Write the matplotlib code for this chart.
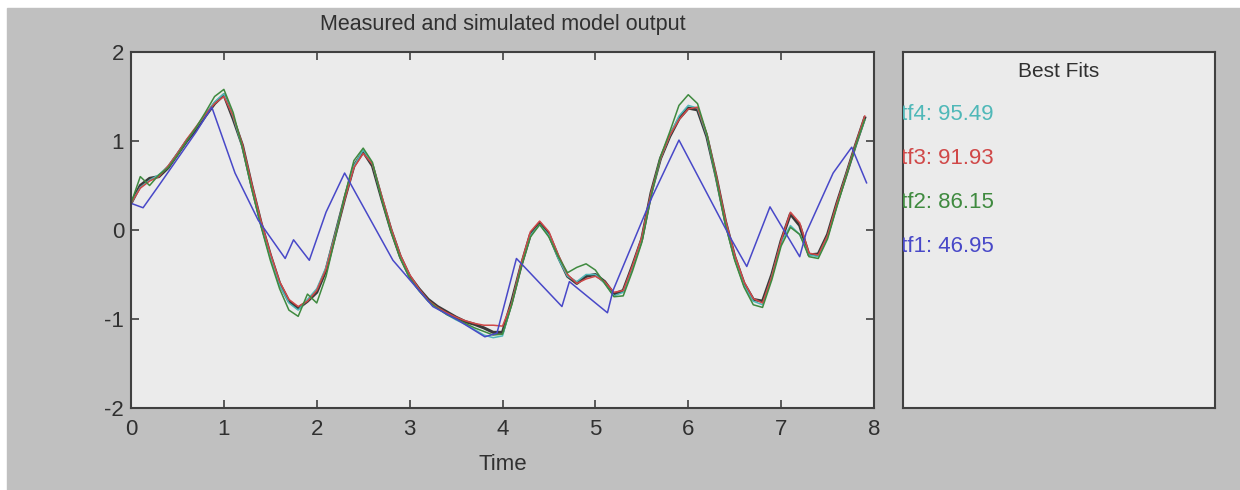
import numpy as np
import matplotlib
matplotlib.use("Agg")
import matplotlib.pyplot as plt
from matplotlib.patches import Rectangle

plt.rcParams['font.family'] = ['Liberation Sans', 'DejaVu Sans']
plt.rcParams['axes.unicode_minus'] = False

# sample time 0.1 s, 80 samples
t = np.arange(80) * 0.1

y_meas = [0.30, 0.50, 0.58, 0.60, 0.70, 0.85, 1.00, 1.13, 1.28, 1.42,
          1.52, 1.25, 0.95, 0.50, 0.08, -0.28, -0.60, -0.80, -0.88, -0.80,
          -0.70, -0.45, -0.05, 0.35, 0.72, 0.88, 0.72, 0.35, 0.00, -0.30,
          -0.52, -0.66, -0.78, -0.86, -0.92, -0.98, -1.03, -1.06, -1.10, -1.15,
          -1.15, -0.80, -0.40, -0.05, 0.08, -0.05, -0.30, -0.52, -0.60, -0.52,
          -0.50, -0.58, -0.72, -0.68, -0.40, -0.10, 0.42, 0.80, 1.05, 1.25,
          1.37, 1.35, 1.05, 0.60, 0.10, -0.30, -0.60, -0.78, -0.80, -0.50,
          -0.12, 0.18, 0.05, -0.28, -0.27, -0.05, 0.30, 0.62, 0.95, 1.26]

y_tf4 = [0.30, 0.48, 0.56, 0.62, 0.72, 0.86, 1.01, 1.15, 1.30, 1.44,
         1.53, 1.27, 0.93, 0.48, 0.06, -0.30, -0.62, -0.82, -0.90, -0.78,
         -0.66, -0.42, -0.04, 0.36, 0.72, 0.90, 0.74, 0.36, 0.00, -0.30,
         -0.54, -0.68, -0.80, -0.88, -0.95, -1.01, -1.06, -1.12, -1.18, -1.21,
         -1.19, -0.82, -0.40, -0.06, 0.06, -0.06, -0.32, -0.52, -0.58, -0.50,
         -0.50, -0.60, -0.74, -0.70, -0.42, -0.10, 0.40, 0.80, 1.06, 1.28,
         1.40, 1.37, 1.06, 0.58, 0.08, -0.32, -0.62, -0.80, -0.84, -0.52,
         -0.14, 0.05, -0.05, -0.28, -0.30, -0.08, 0.28, 0.62, 0.94, 1.24]

y_tf3 = [0.30, 0.47, 0.55, 0.60, 0.72, 0.86, 1.02, 1.16, 1.30, 1.42,
         1.50, 1.28, 0.96, 0.52, 0.10, -0.26, -0.58, -0.78, -0.86, -0.80,
         -0.68, -0.44, -0.06, 0.34, 0.70, 0.86, 0.74, 0.38, 0.02, -0.28,
         -0.50, -0.66, -0.79, -0.87, -0.93, -0.98, -1.02, -1.05, -1.07, -1.07,
         -1.08, -0.82, -0.38, -0.02, 0.10, -0.02, -0.28, -0.50, -0.60, -0.55,
         -0.52, -0.58, -0.70, -0.68, -0.40, -0.08, 0.42, 0.80, 1.06, 1.24,
         1.36, 1.38, 1.08, 0.62, 0.12, -0.28, -0.58, -0.77, -0.82, -0.52,
         -0.12, 0.20, 0.08, -0.26, -0.28, -0.06, 0.30, 0.62, 0.96, 1.28]

y_tf2 = [0.30, 0.60, 0.50, 0.62, 0.70, 0.84, 1.00, 1.15, 1.32, 1.50,
         1.58, 1.32, 0.92, 0.46, 0.04, -0.34, -0.66, -0.90, -0.97, -0.72,
         -0.82, -0.52, -0.08, 0.38, 0.78, 0.92, 0.76, 0.34, -0.02, -0.32,
         -0.54, -0.68, -0.80, -0.88, -0.95, -1.00, -1.05, -1.10, -1.14, -1.18,
         -1.17, -0.84, -0.42, -0.08, 0.06, -0.08, -0.30, -0.48, -0.42, -0.38,
         -0.45, -0.60, -0.75, -0.74, -0.46, -0.14, 0.38, 0.82, 1.10, 1.40,
         1.52, 1.42, 1.08, 0.58, 0.06, -0.34, -0.64, -0.84, -0.87, -0.56,
         -0.18, 0.03, -0.05, -0.30, -0.32, -0.10, 0.26, 0.60, 0.94, 1.24]

# tf1 is a poor fit, read at its corner points
t_tf1 = [0.00, 0.13, 0.30, 0.50, 0.70, 0.87, 1.12, 1.37, 1.66, 1.75,
         1.92, 2.10, 2.30, 2.82, 3.25, 3.50, 3.81, 3.94, 4.15, 4.64,
         4.72, 5.13, 5.19, 5.61, 5.90, 6.45, 6.63, 6.88, 7.20, 7.27,
         7.56, 7.76, 7.92]
y_tf1 = [0.30, 0.25, 0.50, 0.80, 1.10, 1.38, 0.64, 0.11, -0.32, -0.11,
         -0.34, 0.20, 0.64, -0.34, -0.86, -1.00, -1.20, -1.16, -0.32, -0.86,
         -0.58, -0.93, -0.68, 0.37, 1.01, -0.08, -0.41, 0.26, -0.30, -0.03,
         0.64, 0.93, 0.53]

fit_names = ['tf4', 'tf3', 'tf2', 'tf1']
fit_values = [95.49, 91.93, 86.15, 46.95]
fit_colors = ['#4fb8b8', '#d04848', '#3f8a3f', '#4848c8']

fig = plt.figure(figsize=(12.4, 4.9), dpi=100, facecolor='white')
fig.patches.append(Rectangle((7 / 1240, 0), 1233 / 1240, 482 / 490,
                             transform=fig.transFigure, color='#c0c0c0', zorder=-10))

ax = fig.add_axes([131 / 1240, 82 / 490, 743 / 1240, 356 / 490])
ax.set_facecolor('#ebebeb')
ax.plot(t, y_meas, color='#3a3a3a', lw=2.2)
ax.plot(t, y_tf4, color=fit_colors[0], lw=1.1)
ax.plot(t, y_tf3, color=fit_colors[1], lw=1.1)
ax.plot(t, y_tf2, color=fit_colors[2], lw=1.1)
ax.plot(t_tf1, y_tf1, color=fit_colors[3], lw=1.1)

ax.set_xlim(0, 8)
ax.set_ylim(-2, 2)
ax.set_xticks(range(0, 9))
ax.set_yticks([-2, -1, 0, 1, 2])
ax.tick_params(direction='in', top=True, right=True, length=6, width=1.2,
               colors='#404040', labelsize=16, labelcolor='#303030')
ax.tick_params(axis='x', pad=8)
ax.tick_params(axis='y', pad=5)
for s in ax.spines.values():
    s.set_color('#404040')
    s.set_linewidth(1.5)
ax.set_title('Measured and simulated model output', fontsize=15.5, color='#303030', pad=16)
ax.set_xlabel('Time', fontsize=16, color='#303030', labelpad=10)

# legend panel with the fit percentages
bx = fig.add_axes([903 / 1240, 82 / 490, 312 / 1240, 356 / 490])
bx.set_facecolor('#ebebeb')
bx.set_xticks([])
bx.set_yticks([])
for s in bx.spines.values():
    s.set_color('#404040')
    s.set_linewidth(1.5)
bx.text(0.5, 0.945, 'Best Fits', ha='center', va='center', fontsize=15,
        color='#303030', transform=bx.transAxes)
for i, (nm, v, c) in enumerate(zip(fit_names, fit_values, fit_colors)):
    bx.text(-0.006, 0.825 - i * 0.124, f'{nm}: {v:.2f}', ha='left', va='center',
            fontsize=16, color=c, transform=bx.transAxes, clip_on=True)

fig.savefig('out.png', dpi=100, facecolor=fig.get_facecolor())
